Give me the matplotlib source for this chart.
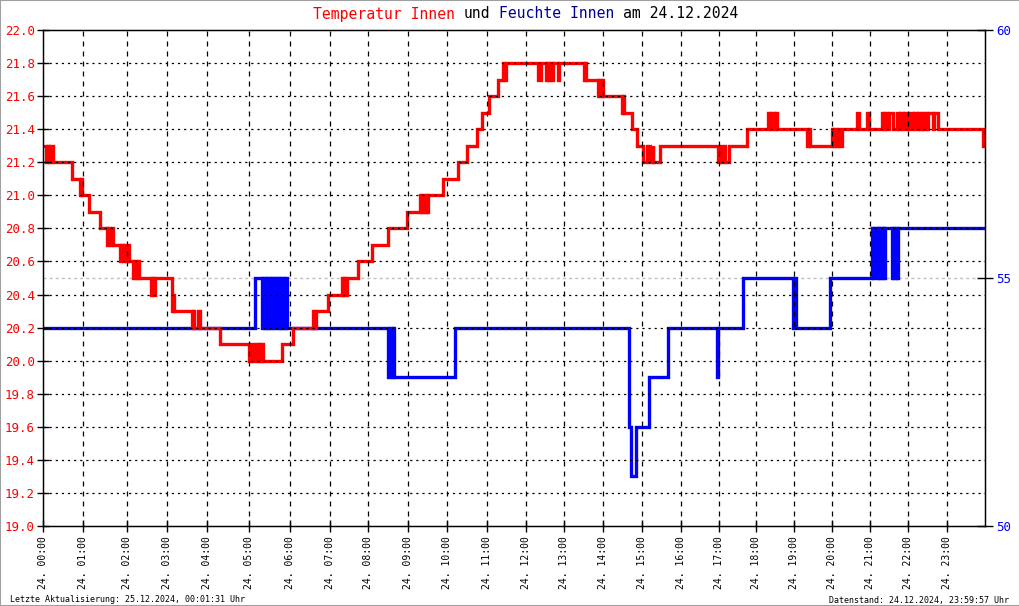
import matplotlib
matplotlib.use("Agg")
import matplotlib.pyplot as plt
from matplotlib.patches import Rectangle

plt.rcParams['font.family'] = ['DejaVu Sans Mono']
plt.rcParams['lines.scale_dashes'] = False

# sample position on the time axis (logger index), hour labels sit at these positions
hour_pos = [0, 40, 84, 124, 164, 206, 247, 287, 325, 365, 404, 444,
            483, 521, 560, 599, 638, 676, 713, 751, 789, 827, 865, 904]
hour_labels = ["24. %02d:00" % h for h in range(24)]
x_end = 942

# Temperatur Innen (step data: position where the value starts, value)
temp_x = [0, 3, 4.5, 5.5, 7, 10, 28.7, 37, 38, 39, 46.3, 57.3,
          63.5, 65, 67, 69, 70, 77, 78.5, 80, 81.5, 83, 85, 86,
          90.3, 91.5, 93, 94.5, 96, 107.7, 109, 110.5, 112,
          128.7, 129.7, 130.7, 149, 150, 151, 155.5, 157, 177,
          206.3, 208, 210, 213, 214.5, 216, 217, 218.5, 220,
          238.7, 250.3, 269.7, 271.5, 273, 285.3,
          298.7, 300, 301.5, 302.5, 303.7, 315.3, 329, 345, 364,
          377, 378.5, 380, 381, 383, 384, 385,
          400.3, 415.3, 424.3, 434.3, 438.7, 446.3, 455.3, 460, 461.5, 463,
          495, 497.5, 502.7, 504, 505.5, 507, 508.5, 510, 515, 516.5,
          541, 542, 543, 555, 556.5, 558, 559, 560,
          578.7, 580, 581, 588.7, 593.7,
          600.3, 603.7, 607, 609.7, 610.3, 617,
          675, 677, 678, 681, 682, 686,
          703.7, 725, 727, 728, 731, 732, 734,
          763.7, 766, 767.5,
          788.7, 790, 791.5, 793, 795, 796, 798.7,
          813.7, 816, 823.7, 826, 838.7, 841, 842, 844, 846.3, 849.7,
          853.7, 856, 857, 860, 861, 864, 867, 870, 871, 874, 875, 877,
          879, 880.3, 882, 884, 885.3, 890, 891, 895.3,
          939.7]
temp_v = [21.3, 21.2, 21.3, 21.2, 21.3, 21.2, 21.1, 21.0, 21.1, 21.0, 20.9, 20.8,
          20.7, 20.8, 20.7, 20.8, 20.7, 20.6, 20.7, 20.6, 20.7, 20.6, 20.7, 20.6,
          20.5, 20.6, 20.5, 20.6, 20.5, 20.4, 20.5, 20.4, 20.5,
          20.3, 20.4, 20.3, 20.2, 20.3, 20.2, 20.3, 20.2, 20.1,
          20.0, 20.1, 20.0, 20.1, 20.0, 20.1, 20.0, 20.1, 20.0,
          20.1, 20.2, 20.3, 20.2, 20.3, 20.4,
          20.5, 20.4, 20.5, 20.4, 20.5, 20.6, 20.7, 20.8, 20.9,
          21.0, 20.9, 21.0, 20.9, 21.0, 20.9, 21.0,
          21.1, 21.2, 21.3, 21.4, 21.5, 21.6, 21.7, 21.8, 21.7, 21.8,
          21.7, 21.8, 21.7, 21.8, 21.7, 21.8, 21.7, 21.8, 21.7, 21.8,
          21.7, 21.8, 21.7, 21.6, 21.7, 21.6, 21.7, 21.6,
          21.5, 21.6, 21.5, 21.4, 21.3,
          21.2, 21.3, 21.2, 21.3, 21.2, 21.3,
          21.2, 21.3, 21.2, 21.3, 21.2, 21.3,
          21.4, 21.5, 21.4, 21.5, 21.4, 21.5, 21.4,
          21.3, 21.4, 21.3,
          21.4, 21.3, 21.4, 21.3, 21.4, 21.3, 21.4,
          21.5, 21.4, 21.5, 21.4, 21.5, 21.4, 21.5, 21.4, 21.5, 21.4,
          21.5, 21.4, 21.5, 21.4, 21.5, 21.4, 21.5, 21.4, 21.5, 21.4, 21.5, 21.4,
          21.5, 21.4, 21.5, 21.4, 21.5, 21.4, 21.5, 21.4,
          21.3]

# Feuchte Innen (%)
hum_x = [0, 211.5, 218.7, 220, 221.5, 223, 224, 225.5, 227, 228, 230, 231,
         232.5, 234, 235.5, 237, 238, 239.5, 241, 242, 243.7,
         345.3, 347, 348.5, 350, 351, 412,
         586.3, 588, 593, 606.3, 625.3, 673.7, 675.3, 699.7,
         749.7, 751.3, 752.7, 787,
         828.7, 830.3, 831.3, 833.7, 834.5, 836, 837, 838.5, 839.5, 841, 842,
         848.7, 850, 851.3, 853, 854, 855.3]
hum_v = [54, 55, 54, 55, 54, 55, 54, 55, 54, 55, 54, 55,
         54, 55, 54, 55, 54, 55, 54, 55, 54,
         53, 54, 53, 54, 53, 54,
         52, 51, 52, 53, 54, 53, 54, 55,
         54, 55, 54, 55,
         56, 55, 56, 55, 56, 55, 56, 55, 56, 55, 56,
         55, 56, 55, 56, 55, 56]

temp_ticks = [19.0 + 0.2 * i for i in range(16)]

fig = plt.figure(figsize=(10.2, 6.06), dpi=100)
ax = fig.add_axes([43 / 1020, 80 / 606, 942 / 1020, 496 / 606])
ax2 = ax.twinx()

# red curve and grid above the humidity axis
ax.set_zorder(ax2.get_zorder() + 1)
ax.patch.set_visible(False)

ax2.axhline(55, color='#c0c0c0', lw=1, ls=(0, (2.2, 2.2)), zorder=1)
ax2.step(hum_x + [x_end], hum_v + [hum_v[-1]], where='post',
         color='#0000ff', lw=2.4, solid_joinstyle='miter', zorder=2)
ax.step(temp_x + [x_end], temp_v + [temp_v[-1]], where='post',
        color='#ff0000', lw=2.4, solid_joinstyle='miter', zorder=2)

ax.set_xlim(0, x_end)
ax.set_ylim(19.0, 22.0)
ax2.set_ylim(50, 60)

ax.set_yticks(temp_ticks)
ax.set_yticklabels(["%.1f" % v for v in temp_ticks])
ax.set_xticks(hour_pos)
ax.set_xticklabels(hour_labels, rotation=90, fontsize=7)
ax2.set_yticks([50, 55, 60])

ax.tick_params(axis='y', direction='inout', length=8, width=1, labelsize=9,
               labelcolor='#ff0000', pad=2)
ax.tick_params(axis='x', direction='inout', length=8, width=1, pad=3)
ax2.tick_params(axis='y', direction='inout', length=12, width=1, labelsize=9,
                labelcolor='#0000ff', pad=2)

ax.set_axisbelow(False)
for v in temp_ticks[1:-1]:
    ax.axhline(v, color='black', lw=0.9, ls=(0, (1.6, 2.8)), zorder=3)
for p in hour_pos[1:]:
    ax.axvline(p, color='black', lw=0.9, ls=(0, (3.6, 3.6)), zorder=3)

for s in ax.spines.values():
    s.set_linewidth(1)
    s.set_zorder(4)

# title in monospace: place each coloured word group by character count
title_size = 10.6
char_w = 0.602 * title_size * 100 / 72 / 1020   # advance of one mono char, figure fraction
title_parts = [("Temperatur Innen", '#ff0000', 0), ("und", 'black', 17),
               ("Feuchte Innen", '#000099', 21), ("am 24.12.2024", 'black', 35)]
for txt, col, n in title_parts:
    fig.text(313 / 1020 + n * char_w, 1 - 14 / 606, txt, color=col,
             fontsize=title_size, ha='left', va='center')

fig.text(10 / 1020, 1 - 600 / 606, "Letzte Aktualisierung: 25.12.2024, 00:01:31 Uhr",
         fontsize=6, ha='left', va='center')
fig.text(1009 / 1020, 1 - 600 / 606, "Datenstand: 24.12.2024, 23:59:57 Uhr",
         fontsize=6, ha='right', va='center')

fig.patches.append(Rectangle((0, 0), 1, 1, transform=fig.transFigure, fill=False,
                             edgecolor='#a0a0a0', lw=1.5))

fig.savefig("out.png", dpi=100)
